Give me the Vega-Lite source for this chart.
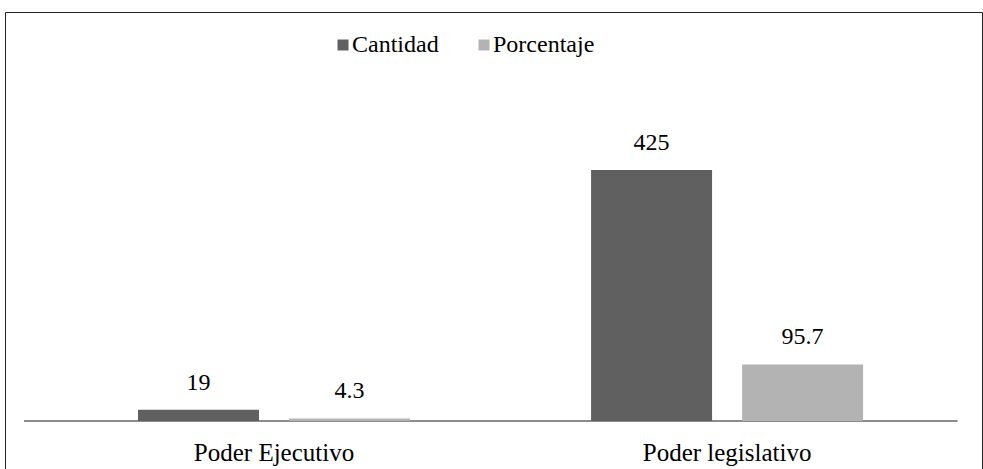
{
  "$schema": "https://vega.github.io/schema/vega-lite/v6.json",
  "autosize": {"type": "none"},
  "padding": {"left": 5, "top": 12, "right": 1, "bottom": 0},
  "width": 977,
  "height": 470,
  "background": "white",
  "config": {
    "view": {"stroke": "#222222", "strokeWidth": 1},
    "font": "Liberation Serif",
    "text": {"font": "Liberation Serif"},
    "legend": {"labelFont": "Liberation Serif"},
    "axis": {"labelFont": "Liberation Serif"}
  },
  "data": {
    "values": [
      {"poder": "Poder Ejecutivo", "serie": "Cantidad", "valor": 19},
      {"poder": "Poder Ejecutivo", "serie": "Porcentaje", "valor": 4.3},
      {"poder": "Poder legislativo", "serie": "Cantidad", "valor": 425},
      {"poder": "Poder legislativo", "serie": "Porcentaje", "valor": 95.7}
    ]
  },
  "encoding": {
    "x": {
      "field": "poder",
      "type": "nominal",
      "sort": null,
      "scale": {"paddingInner": 0.3996, "paddingOuter": 0.278, "align": 0.528},
      "axis": {
        "title": null,
        "orient": "bottom",
        "offset": -61,
        "domain": false,
        "ticks": false,
        "tickSize": 0,
        "labelPadding": 19,
        "labelAngle": 0,
        "labelFont": "Liberation Serif",
        "labelFontSize": 25,
        "labelColor": "#000000"
      }
    },
    "y": {
      "field": "valor",
      "type": "quantitative",
      "scale": {"domain": [-103.3, 692.5], "nice": false, "zero": false},
      "axis": null
    }
  },
  "layer": [
    {
      "mark": {"type": "rule", "color": "#8c8c8c", "strokeWidth": 2},
      "encoding": {
        "x": {"datum": "Poder Ejecutivo", "bandPosition": -0.419},
        "x2": {"datum": "Poder legislativo", "bandPosition": 1.346},
        "y": {"datum": 0}
      }
    },
    {
      "mark": {"type": "bar"},
      "encoding": {
        "xOffset": {
          "field": "serie",
          "type": "nominal",
          "scale": {"paddingInner": 0.199, "paddingOuter": 0}
        },
        "y2": {"datum": 0},
        "color": {
          "field": "serie",
          "type": "nominal",
          "scale": {"domain": ["Cantidad", "Porcentaje"], "range": ["#606060", "#b3b3b3"]},
          "legend": {
            "title": null,
            "orient": "none",
            "legendX": 326,
            "legendY": 21,
            "direction": "horizontal",
            "symbolType": "square",
            "symbolSize": 121,
            "symbolStrokeWidth": 0,
            "symbolOffset": 0,
            "labelFont": "Liberation Serif",
            "labelFontSize": 24,
            "labelColor": "#000000",
            "labelOffset": -3,
            "columnPadding": 33
          }
        }
      }
    },
    {
      "mark": {
        "type": "text",
        "baseline": "alphabetic",
        "dy": -20,
        "font": "Liberation Serif",
        "fontSize": 24,
        "color": "#000000"
      },
      "encoding": {
        "xOffset": {
          "field": "serie",
          "type": "nominal",
          "scale": {"paddingInner": 0.199, "paddingOuter": 0}
        },
        "text": {"field": "valor", "type": "quantitative"}
      }
    }
  ]
}
